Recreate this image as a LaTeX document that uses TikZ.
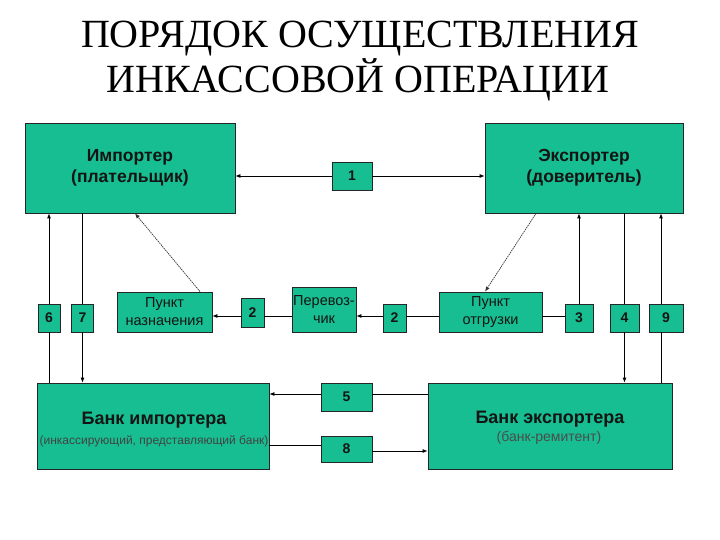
\documentclass[tikz,border=0pt]{standalone}
\usepackage{fontspec}
\setmainfont{Liberation Serif}
\newfontfamily\arialf{Liberation Sans}
\usetikzlibrary{arrows.meta,calc}
\definecolor{boxgreen}{RGB}{22,190,145}
\definecolor{txtdark}{RGB}{20,20,20}
\begin{document}
\begin{tikzpicture}[x=1pt,y=-1pt,
  box/.style={draw=black!85, line width=0.8pt, fill=boxgreen, inner sep=0pt, align=center, text=txtdark},
  big/.style={font=\arialf\bfseries\fontsize{17.5}{21}\selectfont},
  mid/.style={font=\arialf\fontsize{14.5}{18}\selectfont},
  num/.style={font=\arialf\bfseries\fontsize{14}{15}\selectfont},
  ttl/.style={anchor=base, inner sep=0pt, font=\fontsize{40}{44}\selectfont},
  conn/.style={line width=0.8pt, black},
  arr/.style={conn, -{Latex[length=5pt,width=4pt]}},
  dot/.style={line width=0.7pt, black!80, dash pattern=on 1.5pt off 0.8pt, -{Latex[length=5pt,width=4pt]}}
]
\useasboundingbox (0,0) rectangle (720,540);
% title
\node[ttl] (t1) at (360,48) {ПОРЯДОК ОСУЩЕСТВЛЕНИЯ};
\node[ttl] (t2) at (358,93) {ИНКАССОВОЙ ОПЕРАЦИИ};
% main boxes
\node[box, big, minimum width=210, minimum height=90] (imp) at (130,168) {Импортер\\(плательщик)};
\node[box, big, minimum width=198, minimum height=90] (exp) at (584,168) {Экспортер\\(доверитель)};
\node[box, num, minimum width=40, minimum height=28] (one) at (352,176) {1};
% row 2
\node[box, num, minimum width=22, minimum height=28] (six) at (49,318) {6};
\node[box, num, minimum width=22, minimum height=28] (seven) at (82.5,318) {7};
\node[box, mid, minimum width=95, minimum height=40] (pn) at (164.5,312) {Пункт\\назначения};
\node[box, num, minimum width=23, minimum height=29] (twoL) at (252.5,312.5) {2};
\node[box, mid, minimum width=64, minimum height=45] (perev) at (324,309.5) {Перевоз-\\чик};
\node[box, num, minimum width=23, minimum height=28] (twoR) at (394.5,318) {2};
\node[box, mid, minimum width=103, minimum height=40] (po) at (490.5,312) {Пункт\\отгрузки};
\node[box, num, minimum width=28, minimum height=28] (three) at (579,318) {3};
\node[box, num, minimum width=29, minimum height=28] (four) at (624.5,318) {4};
\node[box, num, minimum width=34, minimum height=28] (nine) at (666,318) {9};
% banks
\node[box, minimum width=232, minimum height=86] (bi) at (153,426) {};
\node[font=\arialf\bfseries\fontsize{18}{20}\selectfont, text=txtdark] (bit) at (154,420) {Банк импортера};
\node[font=\arialf\fontsize{12}{14}\selectfont, text=txtdark!80] (bis) at (154,441) {(инкассирующий, представляющий банк)};
\node[box, minimum width=244, minimum height=86] (be) at (550,426) {};
\node[font=\arialf\bfseries\fontsize{18}{20}\selectfont, text=txtdark] (bet) at (550,419) {Банк экспортера};
\node[font=\arialf\fontsize{14}{16}\selectfont, text=black!70] (bes) at (549,438) {(банк-ремитент)};
\node[box, num, minimum width=51, minimum height=28] (five) at (346.5,397) {5};
\node[box, num, minimum width=51, minimum height=26] (eight) at (346.5,449) {8};
% helper coordinates
\coordinate (r2) at (0,316);
\coordinate (y5) at (0,394);
\coordinate (y8a) at (0,445);
\coordinate (y8b) at (0,451);
\coordinate (l9) at (661,0);
\coordinate (xa) at (200,0);
\coordinate (xb) at (135,0);
\coordinate (xc) at (536,0);
\coordinate (xd) at (485,0);
% connectors top
\draw[arr] (one.west) -- (imp.east |- one.west);
\draw[arr] (one.east) -- (exp.west |- one.east);
% left verticals
\draw[conn] (bi.north -| six.south) -- (six.south);
\draw[arr] (six.north) -- (imp.south -| six.north);
\draw[conn] (imp.south -| seven.north) -- (seven.north);
\draw[arr] (seven.south) -- (bi.north -| seven.south);
% right verticals
\draw[arr] (three.north) -- (exp.south -| three.north);
\draw[conn] (exp.south -| four.north) -- (four.north);
\draw[arr] (four.south) -- (be.north -| four.south);
\draw[conn] (be.north -| l9) -- (nine.south -| l9);
\draw[arr] (nine.north -| l9) -- (exp.south -| l9);
% diagonals
\draw[dot] (pn.north -| xa) -- (imp.south -| xb);
\draw[dot] (exp.south -| xc) -- (po.north -| xd);
% row 2 horizontals
\draw[conn] (perev.west |- r2) -- (twoL.east |- r2);
\draw[arr] (twoL.west |- r2) -- (pn.east |- r2);
\draw[conn] (three.west |- r2) -- (po.east |- r2);
\draw[conn] (po.west |- r2) -- (twoR.east |- r2);
\draw[arr] (twoR.west |- r2) -- (perev.east |- r2);
% bank connectors
\draw[arr] (five.west |- y5) -- (bi.east |- y5);
\draw[conn] (be.west |- y5) -- (five.east |- y5);
\draw[conn] (bi.east |- y8a) -- (eight.west |- y8a);
\draw[arr] (eight.east |- y8b) -- (be.west |- y8b);
\end{tikzpicture}
\end{document}
